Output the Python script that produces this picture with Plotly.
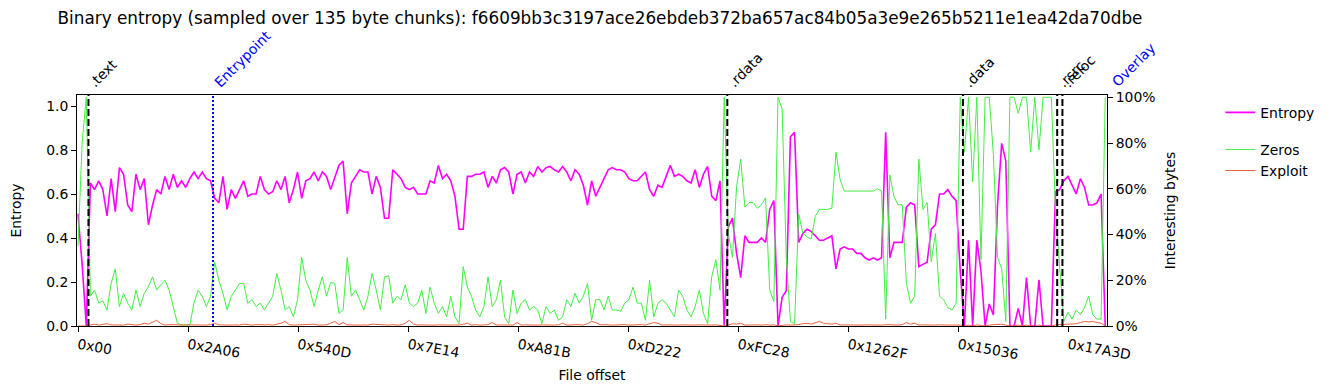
import numpy as np
import plotly.graph_objects as go

TITLE = ("Binary entropy (sampled over 135 byte chunks): "
         "f6609bb3c3197ace26ebdeb372ba657ac84b05a3e9e265b5211e1ea42da70dbe")
CHUNK = 135
STEP = 3 * CHUNK  # one plotted point every 3 chunks

tick_labels = ["0x00", "0x2A06", "0x540D", "0x7E14", "0xA81B",
               "0xD222", "0xFC28", "0x1262F", "0x15036", "0x17A3D"]

section_names = [".text", ".rdata", ".data", ".rsrc", ".reloc"]
section_offsets = [0x400, 0xF800, 0x15200, 0x17600, 0x17800]
entrypoint_offset = 0x3394
x_min, x_max = -98, 100614   # overlay starts at the end of the plotted range

entropy = [
    0.51, 0.28, 0.0, 0.65, 0.62, 0.66, 0.62, 0.50, 0.67, 0.52,
    0.72, 0.69, 0.55, 0.52, 0.69, 0.62, 0.67, 0.46, 0.55, 0.62,
    0.60, 0.68, 0.62, 0.69, 0.63, 0.66, 0.63, 0.67, 0.70, 0.67,
    0.70, 0.67,
    0.66, 0.58, 0.56, 0.68, 0.53, 0.62, 0.58, 0.62, 0.66, 0.59,
    0.60, 0.60, 0.68, 0.62, 0.60, 0.61, 0.66, 0.62, 0.68, 0.56,
    0.62, 0.70, 0.58, 0.66, 0.67, 0.70, 0.66, 0.70, 0.68, 0.62,
    0.68, 0.73,
    0.75, 0.51, 0.65, 0.68, 0.71, 0.70, 0.70, 0.60, 0.68, 0.63,
    0.49, 0.49, 0.71, 0.69, 0.67, 0.63, 0.62, 0.63, 0.60, 0.60,
    0.60, 0.66, 0.65, 0.73, 0.67, 0.69, 0.66, 0.59, 0.44, 0.44,
    0.68,
    0.68, 0.69, 0.69, 0.70, 0.63, 0.68, 0.65, 0.71, 0.72, 0.70,
    0.60, 0.69, 0.70, 0.65, 0.70, 0.68, 0.725, 0.70, 0.72, 0.725,
    0.71, 0.70, 0.725, 0.70, 0.66, 0.71, 0.69, 0.64, 0.55, 0.66, 0.59,
    0.63, 0.67, 0.71, 0.72, 0.71, 0.71, 0.70, 0.67, 0.66, 0.66,
    0.68, 0.70, 0.62, 0.59, 0.64, 0.63, 0.68, 0.73, 0.68, 0.69,
    0.68, 0.66, 0.65, 0.71, 0.63, 0.69, 0.725, 0.59, 0.57, 0.66,
    0.0,
    0.45, 0.49, 0.33, 0.22, 0.41, 0.38, 0.38, 0.38, 0.40, 0.38,
    0.53, 0.57, 0.0, 0.13, 0.16, 0.86, 0.88, 0.38, 0.42, 0.44,
    0.43, 0.41, 0.39, 0.39, 0.40, 0.41, 0.26, 0.35, 0.36, 0.35, 0.35, 0.33,
    0.33, 0.31, 0.30, 0.31, 0.30, 0.31, 0.88, 0.31, 0.38, 0.38,
    0.38, 0.54, 0.56, 0.55, 0.27, 0.28, 0.29, 0.44, 0.46, 0.60,
    0.60, 0.62, 0.59, 0.57, 0.25, 0.0, 0.39, 0.0, 0.39, 0.25, 0.0,
    0.10, 0.05, 0.55, 0.83, 0.75, 0.0, 0.0, 0.08, 0.0, 0.22,
    0.0, 0.0, 0.21, 0.0, 0.0, 0.0, 0.61, 0.62, 0.66, 0.68,
    0.64, 0.60, 0.67, 0.63, 0.55, 0.55, 0.56, 0.60, 0.0,
]

zeros = [
    0.35, 0.80, 1.0, 0.13, 0.157, 0.10, 0.11, 0.07, 0.186, 0.25,
    0.085, 0.143, 0.10, 0.07, 0.157, 0.085, 0.143, 0.172, 0.215, 0.157,
    0.18, 0.20, 0.157, 0.085, 0.012, 0.005, 0.005, 0.005, 0.10, 0.157,
    0.13, 0.085,
    0.13, 0.28, 0.20, 0.143, 0.07, 0.13, 0.157, 0.186, 0.186, 0.10,
    0.115, 0.085, 0.10, 0.07, 0.10, 0.13, 0.23, 0.157, 0.07, 0.085,
    0.04, 0.115, 0.30, 0.20, 0.157, 0.085, 0.157, 0.215, 0.13, 0.19,
    0.186, 0.055,
    0.07, 0.30, 0.13, 0.157, 0.115, 0.07, 0.13, 0.23, 0.157, 0.07,
    0.215, 0.22, 0.10, 0.13, 0.115, 0.18, 0.10, 0.085, 0.10, 0.157,
    0.055, 0.17, 0.10, 0.055, 0.085, 0.04, 0.13, 0.04, 0.01, 0.26,
    0.17,
    0.13, 0.07, 0.04, 0.085, 0.215, 0.085, 0.115, 0.20, 0.04, 0.01,
    0.157, 0.055, 0.10, 0.115, 0.07, 0.085, 0.07, 0.01, 0.085, 0.055,
    0.07, 0.025, 0.04, 0.115, 0.085, 0.143, 0.10, 0.13, 0.186, 0.025, 0.115,
    0.115, 0.07, 0.13, 0.07, 0.07, 0.065, 0.10, 0.115, 0.17, 0.10,
    0.10, 0.025, 0.20, 0.04, 0.10, 0.115, 0.10, 0.07, 0.04, 0.157,
    0.13, 0.07, 0.04, 0.085, 0.157, 0.055, 0.01, 0.215, 0.29, 0.157,
    1.0,
    0.405, 0.30, 0.61, 0.73, 0.52, 0.54, 0.54, 0.515, 0.53, 0.56,
    0.157, 0.107, 1.0, 0.95, 0.30, 0.02, 0.01, 0.49, 0.405, 0.39,
    0.38, 0.48, 0.51, 0.51, 0.51, 0.515, 0.76, 0.64, 0.59, 0.59, 0.59, 0.59,
    0.59, 0.59, 0.59, 0.59, 0.60, 0.59, 0.03, 0.66, 0.565, 0.53,
    0.53, 0.186, 0.10, 0.13, 0.73, 0.51, 0.54, 0.28, 0.405, 0.13,
    0.115, 0.08, 0.07, 0.10, 1.0, 0.76, 1.0, 0.63, 1.0, 0.29, 1.0,
    1.0, 0.75, 0.30, 0.25, 0.02, 1.0, 1.0, 0.93, 1.0, 1.0,
    0.76, 1.0, 0.77, 1.0, 1.0, 1.0, 0.50, 0.25, 0.02, 0.06,
    0.03, 0.07, 0.05, 0.08, 0.13, 0.05, 0.03, 0.03, 1.0,
]

exploit = [
    0.0, 0.0, 0.0, 0.005, 0.008, 0.004, 0.006, 0.01, 0.005, 0.004,
    0.006, 0.004, 0.008, 0.005, 0.004, 0.006, 0.012, 0.008, 0.015, 0.025,
    0.01, 0.004, 0.006, 0.005, 0.004, 0.006, 0.004, 0.005, 0.004, 0.006,
    0.005, 0.004, 0.006, 0.012, 0.005, 0.004, 0.006, 0.004, 0.005, 0.004,
    0.008, 0.005, 0.004, 0.006, 0.004, 0.005, 0.006, 0.004, 0.008, 0.012,
    0.02, 0.006, 0.004, 0.005, 0.006, 0.004, 0.005, 0.008, 0.004, 0.006,
    0.005, 0.012, 0.02, 0.006, 0.015, 0.005, 0.004, 0.006, 0.004, 0.005,
    0.004, 0.008, 0.006, 0.004, 0.005, 0.004, 0.006, 0.004, 0.005, 0.012,
    0.025, 0.008, 0.004, 0.005, 0.004, 0.006, 0.004, 0.005, 0.004, 0.006,
    0.004, 0.005, 0.004, 0.008, 0.012, 0.004, 0.006, 0.004, 0.005, 0.006,
    0.015, 0.004, 0.005, 0.004, 0.005, 0.004, 0.015, 0.004, 0.005, 0.004,
    0.006, 0.004, 0.005, 0.004, 0.006, 0.004, 0.005, 0.012, 0.004, 0.005,
    0.004, 0.006, 0.004, 0.01, 0.02, 0.015, 0.006, 0.004, 0.005, 0.004,
    0.005, 0.004, 0.006, 0.004, 0.005, 0.004, 0.006, 0.004, 0.008, 0.015,
    0.012, 0.004, 0.005, 0.004, 0.006, 0.004, 0.005, 0.004, 0.006, 0.004,
    0.005, 0.004, 0.006, 0.004, 0.005, 0.004, 0.0, 0.004, 0.01, 0.008,
    0.012, 0.004, 0.005, 0.004, 0.005, 0.004, 0.006, 0.004, 0.005, 0.0,
    0.004, 0.005, 0.004, 0.004, 0.006, 0.01, 0.012, 0.008, 0.015, 0.02,
    0.012, 0.01, 0.008, 0.012, 0.004, 0.005, 0.004, 0.005, 0.004, 0.004,
    0.005, 0.004, 0.005, 0.004, 0.004, 0.006, 0.004, 0.005, 0.004, 0.006,
    0.015, 0.008, 0.012, 0.004, 0.005, 0.004, 0.006, 0.004, 0.005, 0.004,
    0.004, 0.005, 0.004, 0.004, 0.0, 0.004, 0.0, 0.005, 0.004, 0.0,
    0.004, 0.005, 0.004, 0.008, 0.004, 0.0, 0.0, 0.004, 0.0, 0.004,
    0.0, 0.0, 0.004, 0.0, 0.0, 0.0, 0.005, 0.006, 0.008, 0.01,
    0.012, 0.01, 0.015, 0.02, 0.018, 0.02, 0.015, 0.012, 0.0,
]

FONT = "DejaVu Sans, Verdana, sans-serif"
FS = 13.9
ENTROPY_COLOR = "#ff00ff"
ZEROS_COLOR = "#44ee44"
EXPLOIT_COLOR = "#f0603c"


def offsets(values):
    return np.arange(len(values)) * STEP


fig = go.Figure()
fig.add_trace(go.Scatter(x=offsets(entropy), y=entropy, mode="lines", name="Entropy",
                         line=dict(color=ENTROPY_COLOR, width=1.6),
                         legendgroup="a", yaxis="y"))
fig.add_trace(go.Scatter(x=offsets(zeros), y=zeros, mode="lines", name="Zeros",
                         line=dict(color=ZEROS_COLOR, width=1),
                         legendgroup="b", yaxis="y2"))
fig.add_trace(go.Scatter(x=offsets(exploit), y=exploit, mode="lines", name="Exploit",
                         line=dict(color=EXPLOIT_COLOR, width=1),
                         legendgroup="b", yaxis="y2"))

shapes = []
annotations = []
for name, off in zip(section_names, section_offsets):
    shapes.append(dict(type="line", xref="x", yref="paper", x0=off, x1=off, y0=0, y1=1,
                       line=dict(color="black", width=2, dash="7px,3px"), layer="above"))
    annotations.append(dict(x=off, y=1, xref="x", yref="paper", text=name, showarrow=False,
                            textangle=-45, xanchor="left", yanchor="bottom",
                            xshift=-5, yshift=2,
                            font=dict(family=FONT, size=FS, color="black")))
shapes.append(dict(type="line", xref="x", yref="paper", x0=entrypoint_offset,
                   x1=entrypoint_offset, y0=0, y1=1,
                   line=dict(color="blue", width=2, dash="2px,2px"), layer="above"))
annotations.append(dict(x=entrypoint_offset, y=1, xref="x", yref="paper", text="Entrypoint",
                        showarrow=False, textangle=-45, xanchor="left", yanchor="bottom",
                        xshift=-5, yshift=2, font=dict(family=FONT, size=FS, color="blue")))
# overlay begins at the right end of the axis range
annotations.append(dict(x=1, y=1, xref="paper", yref="paper", text="Overlay",
                        showarrow=False, textangle=-45, xanchor="left", yanchor="bottom",
                        xshift=-1, yshift=2, font=dict(family=FONT, size=FS, color="blue")))

axis_common = dict(showline=True, linecolor="black", linewidth=1, ticks="outside",
                   ticklen=5, tickcolor="black", showgrid=False, zeroline=False,
                   automargin=False,
                   tickfont=dict(family=FONT, size=FS, color="black"))

# the page body has an 8px margin, so layout positions are offset by -8px
fig.update_layout(
    width=1331, height=390,
    margin=dict(l=69, r=232, t=87, b=72),
    paper_bgcolor="white", plot_bgcolor="white",
    font=dict(family=FONT, size=FS, color="black"),
    title=dict(text=TITLE, x=0.5078, xref="paper", xanchor="center",
               y=1 - 10 / 390, yref="container", yanchor="middle",
               font=dict(family=FONT, size=16.84, color="black")),
    xaxis=dict(range=[x_min, x_max], tickvals=[int(t, 16) for t in tick_labels],
               ticktext=tick_labels, tickangle=10, mirror=True,
               title=dict(text="File offset", standoff=8,
                          font=dict(family=FONT, size=FS)), **axis_common),
    yaxis=dict(range=[0, 1.05], tickvals=[0, 0.2, 0.4, 0.6, 0.8, 1.0], tickformat=".1f",
               mirror=True,
               title=dict(text="Entropy", standoff=23, font=dict(family=FONT, size=FS)),
               **axis_common),
    yaxis2=dict(range=[0, 1.01], overlaying="y", side="right",
                tickvals=[0, 0.2, 0.4, 0.6, 0.8, 1.0], tickformat=".0%",
                title=dict(text="Interesting bytes", standoff=10,
                           font=dict(family=FONT, size=FS)),
                **axis_common),
    legend=dict(x=1.110, y=0.992, xanchor="left", yanchor="top", tracegroupgap=16,
                traceorder="grouped", bgcolor="rgba(0,0,0,0)",
                font=dict(family=FONT, size=FS, color="black")),
    shapes=shapes, annotations=annotations, showlegend=True,
)

fig.write_html("out.html")
